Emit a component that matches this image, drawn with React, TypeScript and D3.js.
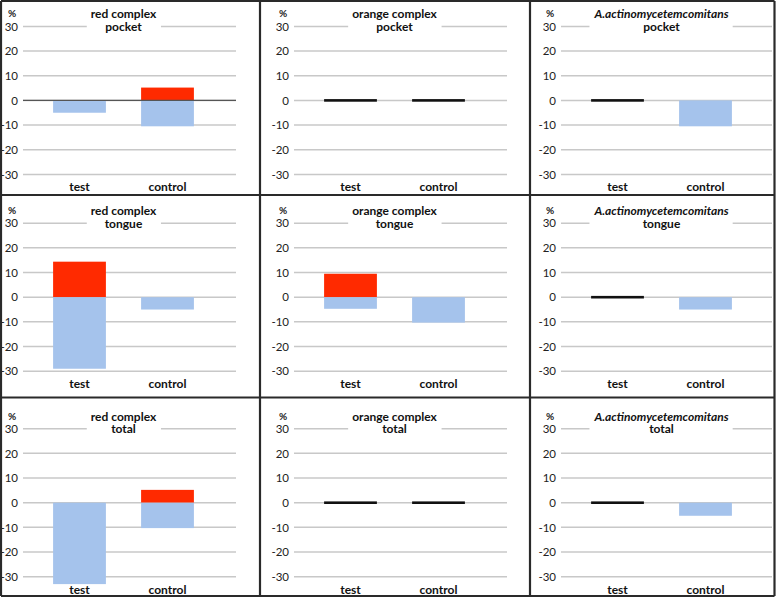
import React, { useEffect, useRef } from "react";
import * as d3 from "d3";

const categories = ["test", "control"];
const groups = ["red complex", "orange complex", "A.actinomycetemcomitans"];
const sites = ["pocket", "tongue", "total"];
const yTicks = [30, 20, 10, 0, -10, -20, -30];

// red = increase, blue = decrease; [group][category]
const increasePocket = [[0, 5.2], [0, 0], [0, 0]];
const increaseTongue = [[14.4, 0], [9.5, 0], [0, 0]];
const increaseTotal = [[0, 5.2], [0, 0], [0, 0]];
const decreasePocket = [[-5, -10.5], [0, 0], [0, -10.5]];
const decreaseTongue = [[-29, -5], [-4.7, -10.3], [0, -5]];
const decreaseTotal = [[-33, -10.3], [0, 0], [0, -5.3]];

const increase = [increasePocket, increaseTongue, increaseTotal];
const decrease = [decreasePocket, decreaseTongue, decreaseTotal];

// layout
const W = 778;
const H = 599;
const colGridX = [23, 294, 561];
const colGridW = [213, 213, 211];
const rowZeroY = [100.4, 297.2, 502.7];
const halfSpan = 74;
const colBorders = [1, 260, 530, 774.5];
const rowBorders = [1, 195, 397.5, 596];

const FONT = "Lato, 'Open Sans', sans-serif";
const RED = "#ff2a00";
const BLUE = "#a5c3ec";
const GRID = "#c8c8c8";

export default function App() {
  const ref = useRef<SVGSVGElement>(null);

  useEffect(() => {
    const svg = d3.select(ref.current);
    svg.selectAll("*").remove();
    svg.append("rect").attr("width", W).attr("height", H).attr("fill", "#fff");

    sites.forEach((site, r) => {
      groups.forEach((grp, c) => {
        const y = d3
          .scaleLinear()
          .domain([-30, 30])
          .range([rowZeroY[r] + halfSpan, rowZeroY[r] - halfSpan]);
        const gx = colGridX[c];
        const x = d3
          .scaleBand()
          .domain(categories)
          .range([gx + 12.5, gx + 188.5])
          .paddingInner(0.4)
          .paddingOuter(0.2);
        const g = svg.append("g");

        // gridlines
        g.selectAll("line.grid")
          .data(yTicks)
          .join("line")
          .attr("class", "grid")
          .attr("x1", gx)
          .attr("x2", gx + colGridW[c])
          .attr("y1", (d) => y(d))
          .attr("y2", (d) => y(d))
          .attr("stroke", GRID)
          .attr("stroke-width", 1.5);

        // tick labels
        g.selectAll("text.tick")
          .data(yTicks)
          .join("text")
          .attr("class", "tick")
          .attr("x", gx - 5)
          .attr("y", (d) => y(d))
          .attr("dy", "0.36em")
          .attr("text-anchor", "end")
          .attr("font-family", FONT)
          .attr("font-size", 11.5)
          .attr("fill", "#222")
          .text((d) => String(d));

        // % unit
        g.append("text")
          .attr("x", gx - 15)
          .attr("y", y(30) - 9)
          .attr("font-family", FONT)
          .attr("font-size", 10)
          .attr("font-weight", "bold")
          .attr("fill", "#222")
          .text("%");

        // bars
        categories.forEach((cat, k) => {
          const inc = increase[r][c][k];
          const dec = decrease[r][c][k];
          const bx = x(cat) as number;
          const bw = x.bandwidth();
          if (inc > 0) {
            g.append("rect")
              .attr("x", bx)
              .attr("width", bw)
              .attr("y", y(inc))
              .attr("height", y(0) - y(inc))
              .attr("fill", RED);
          }
          if (dec < 0) {
            g.append("rect")
              .attr("x", bx)
              .attr("width", bw)
              .attr("y", y(0))
              .attr("height", y(dec) - y(0))
              .attr("fill", BLUE);
          }
          if (inc === 0 && dec === 0) {
            g.append("rect")
              .attr("x", bx)
              .attr("width", bw)
              .attr("y", y(0) - 1.3)
              .attr("height", 2.6)
              .attr("fill", "#111");
          }
        });

        if (r === 0 && c === 0) {
          g.append("line")
            .attr("x1", gx)
            .attr("x2", gx + colGridW[c])
            .attr("y1", y(0))
            .attr("y2", y(0))
            .attr("stroke", "#555")
            .attr("stroke-width", 1.3);
        }

        // category labels
        g.selectAll("text.cat")
          .data(categories)
          .join("text")
          .attr("class", "cat")
          .attr("x", (d) => (x(d) as number) + x.bandwidth() / 2)
          .attr("y", y(-30) + 17)
          .attr("text-anchor", "middle")
          .attr("font-family", FONT)
          .attr("font-size", 12)
          .attr("font-weight", "bold")
          .attr("fill", "#111")
          .text((d) => d);

        // title
        const cx = ((x("test") as number) + (x("control") as number)) / 2 + x.bandwidth() / 2;
        const tg = g.append("g");
        const t1 = tg
          .append("text")
          .attr("x", cx)
          .attr("y", y(30) - 8)
          .attr("text-anchor", "middle")
          .attr("font-family", FONT)
          .attr("font-size", 12)
          .attr("font-weight", "bold")
          .attr("font-style", c === 2 ? "italic" : "normal")
          .attr("fill", "#111")
          .text(grp);
        tg.append("text")
          .attr("x", cx)
          .attr("y", y(30) + 4.5)
          .attr("text-anchor", "middle")
          .attr("font-family", FONT)
          .attr("font-size", 12)
          .attr("font-weight", "bold")
          .attr("fill", "#111")
          .text(site);
        const bb = (t1.node() as SVGTextElement).getBBox();
        tg.insert("rect", ":first-child")
          .attr("x", bb.x - 4)
          .attr("width", bb.width + 8)
          .attr("y", y(30) - 3)
          .attr("height", 6)
          .attr("fill", "#fff");
      });
    });

    // panel borders
    const bg = svg.append("g").attr("stroke", "#2a2a2a").attr("stroke-width", 2.2);
    colBorders.forEach((bx) =>
      bg.append("line").attr("x1", bx).attr("x2", bx).attr("y1", rowBorders[0]).attr("y2", rowBorders[3])
    );
    rowBorders.forEach((by) =>
      bg.append("line").attr("x1", colBorders[0]).attr("x2", colBorders[3]).attr("y1", by).attr("y2", by)
    );
  }, []);

  return (
    <svg
      ref={ref}
      width={W}
      height={H}
      style={{ position: "absolute", left: 0, top: 0, display: "block" }}
    />
  );
}
